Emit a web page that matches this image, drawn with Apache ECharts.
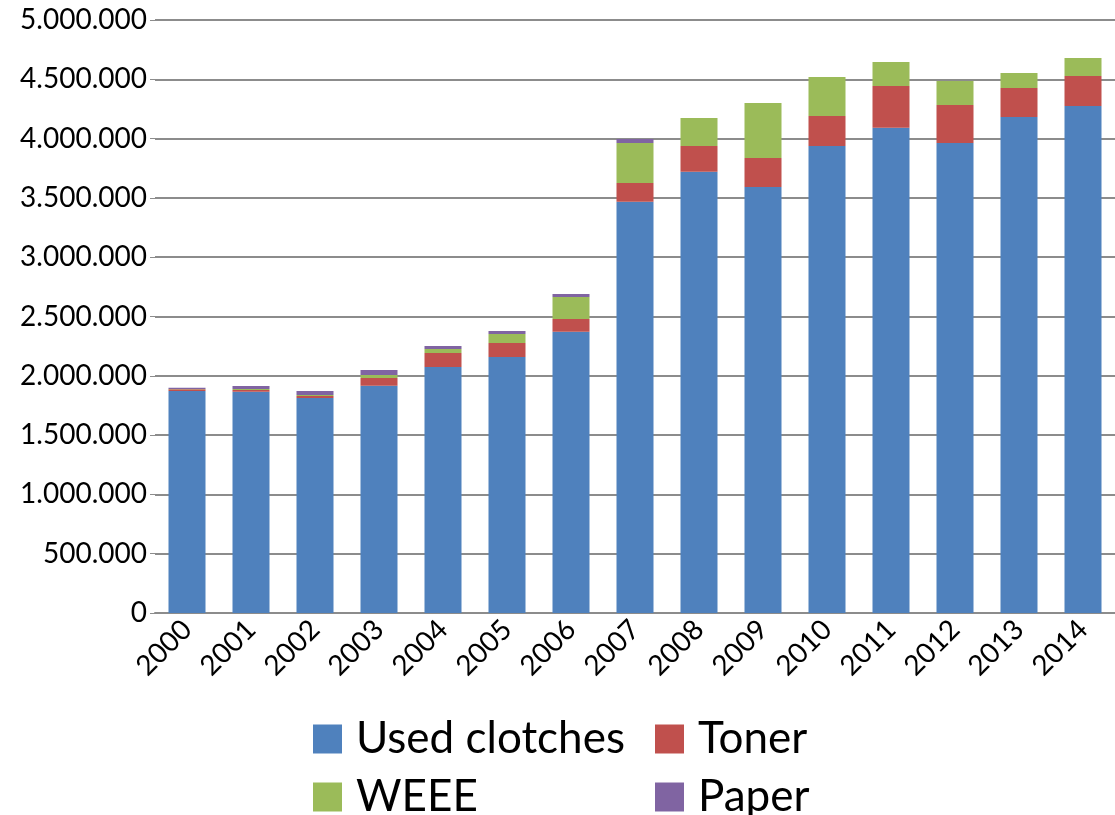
<!DOCTYPE html>
<html>
<head>
<meta charset="utf-8">
<script src="https://cdn.jsdelivr.net/npm/echarts@6/dist/echarts.min.js"></script>
<style>html,body{margin:0;padding:0;background:#fff}#c{width:1115px;height:815px}</style>
</head>
<body>
<div id="c"></div>
<script>
const years = ['2000','2001','2002','2003','2004','2005','2006','2007','2008','2009','2010','2011','2012','2013','2014'];
const usedClothes = [1872000,1866000,1813000,1917000,2074000,2159000,2372000,3468000,3721000,3592000,3938000,4092000,3963000,4182000,4275000];
const toner = [14000,14000,17000,64000,118000,118000,107000,158000,217000,244000,253000,352000,320000,245000,253000];
const weee = [2000,8000,8000,25000,34000,75000,185000,337000,236000,464000,328000,202000,203000,126000,152000];
const paper = [11000,25000,34000,43000,25000,26000,26000,34000,0,0,0,0,0,0,0];
const yTicks = [0,500000,1000000,1500000,2000000,2500000,3000000,3500000,4000000,4500000,5000000];

const FONT = 'Lato';
function fmt(v){ return String(v).replace(/\B(?=(\d{3})+(?!\d))/g, '.'); }

const chart = echarts.init(document.getElementById('c'), null, {renderer:'canvas'});
const legendText = {fontFamily: FONT, fontSize: 44, color: '#000', lineHeight: 36, padding: [0,0,0,9]};
const legendBase = {orient: 'vertical', top: 717, height: 200, itemWidth: 29, itemHeight: 29, itemGap: 14,
  padding: 0, icon: 'rect', textStyle: legendText};
chart.setOption({
  animation: false,
  color: ['#4F81BD','#C0504D','#9BBB59','#8064A2'],
  grid: {left: 155, right: 0, top: 20, bottom: 202, containLabel: false},
  legend: [
    Object.assign({left: 313, data: ['Used clotches','WEEE']}, legendBase),
    Object.assign({left: 655, data: ['Toner','Paper']}, legendBase)
  ],
  xAxis: {
    type: 'category', data: years,
    axisLine: {lineStyle: {color: '#8c8c8c', width: 2}},
    axisTick: {show: false},
    axisLabel: {rotate: 45, margin: 12, fontFamily: FONT, fontSize: 28, color: '#000'}
  },
  yAxis: {
    type: 'value', min: 0, max: 5000000, interval: 500000,
    axisLine: {show: false},
    axisTick: {show: true, length: 5, lineStyle: {color: '#8c8c8c', width: 1}},
    splitLine: {lineStyle: {color: '#8c8c8c', width: 2}},
    axisLabel: {margin: 8, fontFamily: FONT, fontSize: 28, color: '#000',
      formatter: v => yTicks.includes(v) ? fmt(v) : ''}
  },
  series: [
    {name: 'Used clotches', type: 'bar', stack: 's', barWidth: 37, data: usedClothes},
    {name: 'Toner', type: 'bar', stack: 's', barWidth: 37, data: toner},
    {name: 'WEEE', type: 'bar', stack: 's', barWidth: 37, data: weee},
    {name: 'Paper', type: 'bar', stack: 's', barWidth: 37, data: paper}
  ]
});
</script>
</body>
</html>
